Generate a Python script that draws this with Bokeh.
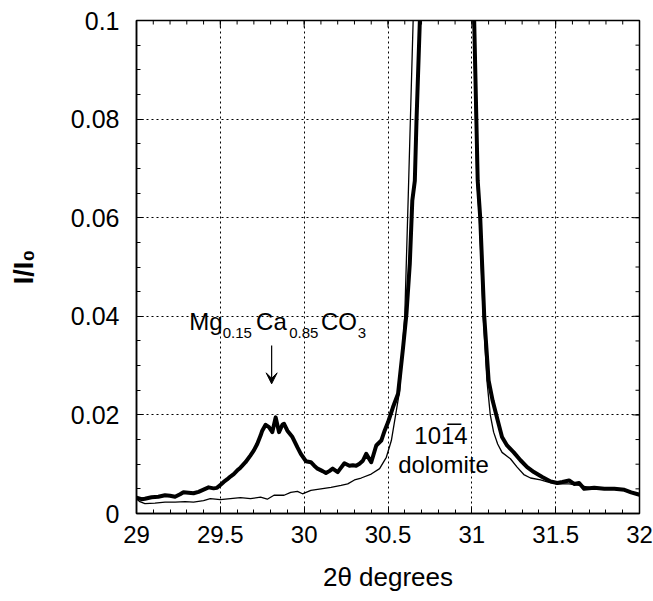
import math
from bokeh.plotting import figure
from bokeh.models import (Range1d, FixedTicker, Label, Arrow, VeeHead)
from bokeh.embed import file_html
from bokeh.resources import INLINE

# ---- data ----
sample_x = [29.00, 29.03, 29.05, 29.09, 29.13, 29.17, 29.20, 29.23, 29.26, 29.28,
            29.31, 29.34, 29.37, 29.39, 29.41, 29.43, 29.46, 29.48, 29.50, 29.52,
            29.54, 29.56, 29.58, 29.60, 29.62, 29.65, 29.68, 29.70, 29.72, 29.74,
            29.75, 29.77, 29.79, 29.81, 29.83, 29.85, 29.87, 29.88, 29.90, 29.93,
            29.96, 29.98, 30.01, 30.04, 30.06, 30.08, 30.11, 30.13, 30.15, 30.17,
            30.20, 30.22, 30.24, 30.27, 30.29, 30.31, 30.33, 30.35, 30.37, 30.40,
            30.43, 30.46, 30.48, 30.50, 30.53, 30.56, 30.59, 30.61, 30.63, 30.645,
            30.66, 30.67, 30.69, 30.87, 31.014, 31.035, 31.05, 31.074, 31.10, 31.124,
            31.154, 31.18, 31.21, 31.25, 31.29, 31.33, 31.37, 31.42, 31.47, 31.51,
            31.54, 31.58, 31.61, 31.64, 31.67, 31.73, 31.79, 31.85, 31.91, 31.95,
            31.99, 32.00]
sample_y = [0.0032, 0.0029, 0.0030, 0.0033, 0.0034, 0.0037, 0.0036, 0.0034, 0.0039, 0.0043,
            0.0042, 0.0041, 0.0044, 0.0047, 0.0050, 0.0053, 0.0051, 0.0052, 0.0058, 0.0064,
            0.0069, 0.0075, 0.0080, 0.0087, 0.0093, 0.0104, 0.0118, 0.0128, 0.0141, 0.0158,
            0.0168, 0.0180, 0.0175, 0.0165, 0.0195, 0.0165, 0.0180, 0.0182, 0.0168, 0.0155,
            0.0134, 0.0121, 0.0106, 0.0104, 0.0097, 0.0091, 0.0086, 0.0082, 0.0086, 0.0091,
            0.0084, 0.0093, 0.0102, 0.0097, 0.0098, 0.0097, 0.0101, 0.0107, 0.0121, 0.0104,
            0.0138, 0.0148, 0.0168, 0.0185, 0.0216, 0.0243, 0.0337, 0.0405, 0.0507, 0.0635,
            0.0675, 0.0797, 0.1000, 1.0000, 0.1000, 0.0675, 0.0600, 0.0400, 0.0270, 0.0229,
            0.0189, 0.0155, 0.0138, 0.0124, 0.0108, 0.0094, 0.0084, 0.0074, 0.0065, 0.0062,
            0.0064, 0.0067, 0.0060, 0.0062, 0.0050, 0.0052, 0.0050, 0.0050, 0.0048, 0.0043,
            0.0039, 0.0038]

dolomite_x = [29.00, 29.02, 29.05, 29.11, 29.17, 29.23, 29.29, 29.34, 29.40, 29.44,
              29.50, 29.56, 29.62, 29.68, 29.74, 29.78, 29.82, 29.88, 29.92, 29.96,
              29.99, 30.04, 30.10, 30.16, 30.22, 30.26, 30.30, 30.34, 30.40, 30.45,
              30.49, 30.52, 30.55, 30.57, 30.585, 30.60, 30.62, 30.65, 30.87, 31.01,
              31.03, 31.045, 31.068, 31.09, 31.11, 31.13, 31.154, 31.18, 31.23, 31.27,
              31.31, 31.35, 31.41, 31.45, 31.51, 31.58, 31.64, 31.70, 31.79, 31.85,
              31.91, 31.96, 32.00]
dolomite_y = [0.0030, 0.0024, 0.0020, 0.0021, 0.0023, 0.0023, 0.0024, 0.0023, 0.0026, 0.0030,
              0.0028, 0.0030, 0.0032, 0.0030, 0.0033, 0.0029, 0.0037, 0.0037, 0.0043, 0.0045,
              0.0040, 0.0047, 0.0050, 0.0053, 0.0057, 0.0060, 0.0068, 0.0072, 0.0080, 0.0091,
              0.0114, 0.0148, 0.0209, 0.0250, 0.0330, 0.0400, 0.0635, 0.1000, 1.0000, 0.1000,
              0.0675, 0.0600, 0.0400, 0.0270, 0.0200, 0.0165, 0.0141, 0.0124, 0.0111, 0.0094,
              0.0079, 0.0072, 0.0068, 0.0064, 0.0060, 0.0060, 0.0057, 0.0053, 0.0050, 0.0049,
              0.0047, 0.0043, 0.0038]

x_ticks = [29, 29.5, 30, 30.5, 31, 31.5, 32]
x_tick_labels = ["29", "29.5", "30", "30.5", "31", "31.5", "32"]
y_ticks = [0, 0.02, 0.04, 0.06, 0.08, 0.1]
y_tick_labels = ["0", "0.02", "0.04", "0.06", "0.08", "0.1"]

x_label = "2θ degrees"
y_label = "I/I₀"

FONT = "Liberation Sans"
X0, X1, Y0, Y1 = 29, 32, 0, 0.1

p = figure(width=653, height=601, x_range=Range1d(X0, X1), y_range=Range1d(Y0, Y1),
           output_backend="svg", toolbar_location=None,
           min_border_left=136, min_border_right=14, min_border_top=20, min_border_bottom=88)
p.background_fill_color = "white"
p.border_fill_color = "white"
p.outline_line_color = "black"
p.outline_line_width = 1.5

x_minor = [round(X0 + i * 0.1, 2) for i in range(31)]
y_minor = [round(i * 0.005, 3) for i in range(21)]
xt = FixedTicker(ticks=x_ticks, minor_ticks=x_minor)
yt = FixedTicker(ticks=y_ticks, minor_ticks=y_minor)


def style_axis(ax):
    ax.axis_line_color = "black"
    ax.axis_line_width = 1.5
    ax.major_tick_in = 7
    ax.major_tick_out = 0
    ax.minor_tick_in = 4
    ax.minor_tick_out = 0
    ax.major_tick_line_color = "black"
    ax.minor_tick_line_color = "black"
    ax.major_tick_line_width = 1
    ax.minor_tick_line_width = 1
    ax.major_label_text_font = FONT
    ax.major_label_text_font_size = "24px"
    ax.major_label_text_color = "black"
    ax.axis_label_text_font = FONT
    ax.axis_label_text_color = "black"


xa = p.xaxis[0]
xa.ticker = xt
style_axis(xa)
xa.major_label_overrides = dict(zip(x_ticks, x_tick_labels))
xa.major_label_standoff = 12
xa.axis_label = x_label
xa.axis_label_text_font_size = "26px"
xa.axis_label_text_font_style = "normal"
xa.axis_label_standoff = 16

ya = p.yaxis[0]
ya.ticker = yt
style_axis(ya)
ya.major_label_text_font_size = "25px"
ya.major_label_overrides = dict(zip(y_ticks, y_tick_labels))
ya.major_label_standoff = 17
ya.axis_label = y_label
ya.axis_label_text_font_size = "27px"
ya.axis_label_text_font_style = "bold"
ya.axis_label_standoff = 29

for g in (p.xgrid[0], p.ygrid[0]):
    g.grid_line_color = "black"
    g.grid_line_dash = "2 3"
    g.grid_line_width = 1

# inward ticks along top and right edges (half of each dash is clipped by the frame)
p.scatter(x_ticks, [Y1] * len(x_ticks), marker="dash", angle=math.pi / 2, size=14,
          line_color="black", line_width=1)
p.scatter(x_minor, [Y1] * len(x_minor), marker="dash", angle=math.pi / 2, size=8,
          line_color="black", line_width=1)
p.scatter([X1] * len(y_ticks), y_ticks, marker="dash", size=14,
          line_color="black", line_width=1)
p.scatter([X1] * len(y_minor), y_minor, marker="dash", size=8,
          line_color="black", line_width=1)

p.line(dolomite_x, dolomite_y, line_color="black", line_width=1.3)
p.line(sample_x, sample_y, line_color="black", line_width=4, line_join="round")

# formula label: Mg0.15Ca0.85CO3 (main text + subscripts)
formula_main = [("Mg", 29.315), ("Ca", 29.713), ("CO", 30.100)]
formula_sub = [("0.15", 29.514), ("0.85", 29.911), ("3", 30.319)]
for t, xx in formula_main:
    p.add_layout(Label(x=xx, y=0.0390, text=t, text_font=FONT, text_font_size="24px",
                       text_align="left", text_baseline="alphabetic", text_color="black"))
for t, xx in formula_sub:
    p.add_layout(Label(x=xx, y=0.0367, text=t, text_font=FONT, text_font_size="15px",
                       text_align="left", text_baseline="alphabetic", text_color="black"))

p.add_layout(Arrow(x_start=29.806, y_start=0.0341, x_end=29.806, y_end=0.0263,
                   line_color="black", line_width=1.2,
                   end=VeeHead(size=11, fill_color="black", line_color="black")))

p.add_layout(Label(x=30.816, y=0.0158, text="101\u03054", text_font=FONT, text_font_size="24px",
                   text_align="center", text_baseline="alphabetic", text_color="black"))
p.add_layout(Label(x=30.831, y=0.0100, text="dolomite", text_font=FONT, text_font_size="24px",
                   text_align="center", text_baseline="alphabetic", text_color="black"))

open("out.html", "w").write(file_html(p, INLINE))
